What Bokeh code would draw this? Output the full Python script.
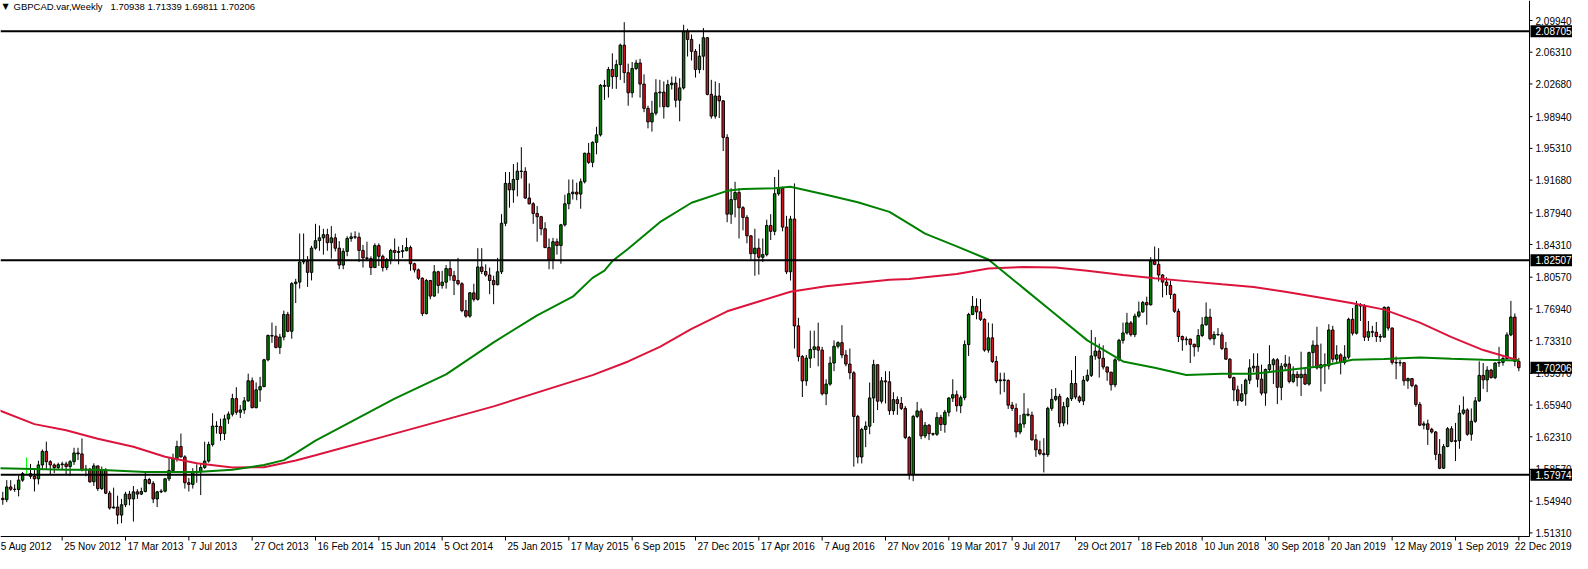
from bokeh.plotting import figure
from bokeh.models import Range1d, ColumnDataSource
from bokeh.core.properties import value
from bokeh.embed import file_html
from bokeh.resources import INLINE

# ---------------- data ----------------
symbol = "GBPCAD.var,Weekly"
first_bar = 2          # index of first visible weekly bar (bar 1 = 5 Aug 2012)
first_open = 1.5527

closes = [
    1.5512, 1.5657, 1.5631, 1.5628, 1.5735, 1.5809, 1.5809, 1.5779, 1.5750, 1.5909,
    1.6064, 1.5946, 1.5909, 1.5879, 1.5912, 1.5920, 1.5890, 1.5946, 1.6046, 1.6035,
    1.5853, 1.5861, 1.5716, 1.5898, 1.5638, 1.5853, 1.5586, 1.5416, 1.5427, 1.5335,
    1.5453, 1.5575, 1.5520, 1.5601, 1.5575, 1.5605, 1.5742, 1.5698, 1.5520, 1.5601,
    1.5609, 1.5750, 1.5846, 1.5983, 1.6120, 1.6001, 1.5705, 1.5686, 1.5823, 1.5831,
    1.5879, 1.5953, 1.6142, 1.6353, 1.6349, 1.6268, 1.6435, 1.6490, 1.6668, 1.6512,
    1.6538, 1.6642, 1.6872, 1.6564, 1.6768, 1.6805, 1.7112, 1.7390, 1.7383, 1.7253,
    1.7372, 1.7631, 1.7438, 1.7983, 1.8001, 1.8231, 1.8238, 1.8112, 1.8390, 1.8475,
    1.8507, 1.8544, 1.8452, 1.8507, 1.8389, 1.8196, 1.8352, 1.8500, 1.8519, 1.8515,
    1.8363, 1.8278, 1.8270, 1.8167, 1.8419, 1.8296, 1.8167, 1.8259, 1.8363, 1.8341,
    1.8352, 1.8361, 1.8396, 1.8211, 1.8141, 1.8045, 1.7641, 1.8019, 1.7841, 1.8119,
    1.7963, 1.8000, 1.8156, 1.8074, 1.8019, 1.7982, 1.7674, 1.7612, 1.7878, 1.7804,
    1.8174, 1.8122, 1.8082, 1.8019, 1.7971, 1.8119, 1.8674, 1.9130, 1.9056, 1.9175,
    1.9271, 1.9267, 1.8963, 1.8897, 1.8786, 1.8749, 1.8611, 1.8396, 1.8259, 1.8463,
    1.8419, 1.8656, 1.8897, 1.9012, 1.9030, 1.9008, 1.9149, 1.9475, 1.9371, 1.9600,
    1.9686, 2.0252, 2.0241, 2.0434, 2.0352, 2.0489, 2.0712, 2.0397, 2.0167, 2.0445,
    2.0508, 2.0267, 1.9989, 1.9834, 1.9934, 2.0167, 2.0175, 2.0008, 2.0260, 2.0278,
    2.0082, 2.0223, 2.0871, 2.0778, 2.0641, 2.0434, 2.0586, 2.0797, 2.0149, 1.9900,
    2.0130, 2.0075, 1.9656, 1.8778, 1.8945, 1.9026, 1.8852, 1.8741, 1.8530, 1.8326,
    1.8389, 1.8285, 1.8315, 1.8649, 1.8582, 1.9012, 1.9075, 1.8630, 1.8119, 1.8723,
    1.7500, 1.7149, 1.6871, 1.7130, 1.7230, 1.7260, 1.7223, 1.6723, 1.6834, 1.7075,
    1.7267, 1.7308, 1.7167, 1.7063, 1.6963, 1.6463, 1.6000, 1.6315, 1.6352, 1.6675,
    1.7056, 1.6638, 1.6871, 1.6860, 1.6530, 1.6656, 1.6612, 1.6556, 1.6223, 1.5797,
    1.6464, 1.6527, 1.6241, 1.6363, 1.6267, 1.6260, 1.6452, 1.6371, 1.6512, 1.6674,
    1.6712, 1.6586, 1.6678, 1.7286, 1.7630, 1.7723, 1.7660, 1.7575, 1.7223, 1.7363,
    1.7093, 1.6871, 1.6882, 1.6875, 1.6593, 1.6556, 1.6286, 1.6378, 1.6489, 1.6478,
    1.6197, 1.6082, 1.6038, 1.6026, 1.6556, 1.6660, 1.6693, 1.6389, 1.6575, 1.6667,
    1.6841, 1.6686, 1.6641, 1.6878, 1.6934, 1.7156, 1.7212, 1.7130, 1.7030, 1.6971,
    1.6826, 1.7112, 1.7334, 1.7419, 1.7534, 1.7400, 1.7612, 1.7660, 1.7767, 1.7741,
    1.8241, 1.8204, 1.8082, 1.8001, 1.7963, 1.7860, 1.7667, 1.7378, 1.7341, 1.7349,
    1.7289, 1.7260, 1.7390, 1.7512, 1.7601, 1.7353, 1.7401, 1.7397, 1.7242, 1.7119,
    1.6908, 1.6768, 1.6642, 1.6723, 1.6879, 1.7019, 1.7038, 1.6890, 1.6731, 1.7001,
    1.7056, 1.7112, 1.6797, 1.7038, 1.7064, 1.6864, 1.6945, 1.6908, 1.6946, 1.6834,
    1.7194, 1.7279, 1.7019, 1.7056, 1.7042, 1.7453, 1.7119, 1.7168, 1.7082, 1.7142,
    1.7575, 1.7416, 1.7734, 1.7727, 1.7371, 1.7434, 1.7427, 1.7379, 1.7371, 1.7712,
    1.7475, 1.7082, 1.7075, 1.7079, 1.6871, 1.6897, 1.6816, 1.6601, 1.6364, 1.6379,
    1.6316, 1.6286, 1.6030, 1.5871, 1.6119, 1.6323, 1.6179, 1.6186, 1.6501, 1.6538,
    1.6260, 1.6408, 1.6642, 1.6934, 1.6882, 1.6994, 1.6908, 1.7075, 1.7082, 1.7127,
    1.7397, 1.7601, 1.70938, 1.70206,
]

highs = [
    1.5601, 1.5735, 1.5735, 1.5686, 1.5787, 1.5827, 1.5994, 1.5920, 1.5853, 1.5957,
    1.6086, 1.6175, 1.5964, 1.5927, 1.5935, 1.5946, 1.5946, 1.5964, 1.6105, 1.6105,
    1.6212, 1.5909, 1.5872, 1.5927, 1.5898, 1.5890, 1.5872, 1.5612, 1.5649, 1.5557,
    1.5520, 1.5601, 1.5612, 1.5668, 1.5631, 1.5649, 1.5816, 1.5761, 1.5724, 1.5612,
    1.5631, 1.5761, 1.5994, 1.6038, 1.6186, 1.6268, 1.6020, 1.5761, 1.5872, 1.5916,
    1.5927, 1.6175, 1.6175, 1.6501, 1.6409, 1.6438, 1.6483, 1.6520, 1.6723, 1.6798,
    1.6594, 1.6686, 1.6953, 1.6909, 1.6853, 1.6916, 1.7123, 1.7401, 1.7538, 1.7501,
    1.7409, 1.7675, 1.7661, 1.8001, 1.8038, 1.8557, 1.8557, 1.8298, 1.8416, 1.8668,
    1.8649, 1.8611, 1.8611, 1.8641, 1.8556, 1.8470, 1.8389, 1.8526, 1.8567, 1.8582,
    1.8567, 1.8426, 1.8463, 1.8296, 1.8444, 1.8444, 1.8315, 1.8278, 1.8382, 1.8500,
    1.8407, 1.8426, 1.8507, 1.8419, 1.8222, 1.8156, 1.8056, 1.8037, 1.8026, 1.8196,
    1.8130, 1.8130, 1.8196, 1.8241, 1.8130, 1.8278, 1.8000, 1.7797, 1.7889, 1.7982,
    1.8389, 1.8389, 1.8204, 1.8167, 1.8074, 1.8278, 1.8778, 1.9260, 1.9260, 1.9352,
    1.9371, 1.9545, 1.9315, 1.9130, 1.8915, 1.8871, 1.8759, 1.8685, 1.8500, 1.8507,
    1.8500, 1.8667, 1.9000, 1.9175, 1.9175, 1.9138, 1.9186, 1.9482, 1.9593, 1.9612,
    1.9778, 2.0267, 2.0315, 2.0463, 2.0619, 2.0545, 2.0730, 2.0975, 2.0500, 2.0519,
    2.0545, 2.0556, 2.0378, 2.0019, 2.0075, 2.0323, 2.0315, 2.0297, 2.0315, 2.0352,
    2.0352, 2.0334, 2.0945, 2.0900, 2.0834, 2.0667, 2.0723, 2.0908, 2.0804, 2.0315,
    2.0297, 2.0278, 2.0082, 1.9693, 1.9075, 1.9149, 1.9075, 1.8871, 1.8767, 1.8537,
    1.8611, 1.8500, 1.8500, 1.8715, 1.8778, 1.9204, 1.9286, 1.9093, 1.8759, 1.8759,
    1.9130, 1.7593, 1.7167, 1.7167, 1.7445, 1.7445, 1.7537, 1.7260, 1.6889, 1.7149,
    1.7334, 1.7323, 1.7508, 1.7223, 1.7241, 1.6982, 1.6482, 1.6334, 1.6408, 1.6852,
    1.7112, 1.7001, 1.6915, 1.6982, 1.6982, 1.6741, 1.6693, 1.6686, 1.6582, 1.6241,
    1.6482, 1.6630, 1.6556, 1.6400, 1.6378, 1.6278, 1.6512, 1.6482, 1.6538, 1.6686,
    1.6889, 1.6760, 1.6704, 1.7334, 1.7649, 1.7841, 1.7815, 1.7808, 1.7586, 1.7538,
    1.7527, 1.7156, 1.6964, 1.6964, 1.6889, 1.6630, 1.6612, 1.6482, 1.6730, 1.6556,
    1.6519, 1.6260, 1.6186, 1.6215, 1.6575, 1.6778, 1.6789, 1.6723, 1.6630, 1.6686,
    1.6993, 1.7156, 1.6704, 1.6926, 1.7001, 1.7452, 1.7371, 1.7297, 1.7278, 1.7008,
    1.6926, 1.7130, 1.7352, 1.7538, 1.7649, 1.7556, 1.7641, 1.7778, 1.7786, 1.7834,
    1.8286, 1.8408, 1.8389, 1.8093, 1.8056, 1.8019, 1.7871, 1.7697, 1.7389, 1.7378,
    1.7352, 1.7297, 1.7463, 1.7600, 1.7768, 1.7697, 1.7438, 1.7475, 1.7427, 1.7316,
    1.7131, 1.6919, 1.6816, 1.6834, 1.6897, 1.7119, 1.7186, 1.7186, 1.7056, 1.7012,
    1.7279, 1.7131, 1.7131, 1.7075, 1.7168, 1.7149, 1.7038, 1.6982, 1.7205, 1.7019,
    1.7205, 1.7334, 1.7490, 1.7297, 1.7186, 1.7519, 1.7501, 1.7279, 1.7186, 1.7279,
    1.7593, 1.7705, 1.7786, 1.7760, 1.7749, 1.7556, 1.7501, 1.7545, 1.7408, 1.7723,
    1.7723, 1.7482, 1.7149, 1.7112, 1.7082, 1.6908, 1.6897, 1.6834, 1.6630, 1.6408,
    1.6427, 1.6334, 1.6297, 1.6205, 1.6149, 1.6342, 1.6353, 1.6390, 1.6593, 1.6693,
    1.6556, 1.6556, 1.6686, 1.7094, 1.7075, 1.7038, 1.7008, 1.7082, 1.7260, 1.7168,
    1.7427, 1.7786, 1.7642, 1.71339,
]

lows = [
    1.5453, 1.5483, 1.5612, 1.5601, 1.5549, 1.5716, 1.5798, 1.5750, 1.5605, 1.5686,
    1.5853, 1.5853, 1.5805, 1.5816, 1.5853, 1.5861, 1.5805, 1.5787, 1.5909, 1.5964,
    1.5835, 1.5779, 1.5705, 1.5668, 1.5612, 1.5623, 1.5575, 1.5398, 1.5409, 1.5231,
    1.5242, 1.5427, 1.5446, 1.5261, 1.5520, 1.5564, 1.5594, 1.5686, 1.5472, 1.5427,
    1.5586, 1.5594, 1.5724, 1.5827, 1.5946, 1.5994, 1.5638, 1.5605, 1.5638, 1.5705,
    1.5564, 1.5864, 1.5935, 1.6120, 1.6268, 1.6186, 1.6194, 1.6379, 1.6464, 1.6483,
    1.6446, 1.6494, 1.6631, 1.6557, 1.6557, 1.6631, 1.6798, 1.7094, 1.7305, 1.7242,
    1.7179, 1.7335, 1.7427, 1.7353, 1.7761, 1.7927, 1.8205, 1.7946, 1.8020, 1.8372,
    1.8359, 1.8315, 1.8359, 1.8270, 1.8352, 1.8148, 1.8148, 1.8296, 1.8463, 1.8493,
    1.8230, 1.8167, 1.8241, 1.8082, 1.8204, 1.8185, 1.8122, 1.8137, 1.8204, 1.8259,
    1.8204, 1.8278, 1.8352, 1.8130, 1.8111, 1.8026, 1.7612, 1.7630, 1.7804, 1.7834,
    1.7871, 1.7926, 1.7926, 1.8019, 1.7852, 1.7963, 1.7656, 1.7593, 1.7593, 1.7778,
    1.7789, 1.8093, 1.8063, 1.7863, 1.7748, 1.7963, 1.8093, 1.8641, 1.8852, 1.8908,
    1.8982, 1.9186, 1.8952, 1.8889, 1.8667, 1.8463, 1.8537, 1.8389, 1.8148, 1.8148,
    1.8315, 1.8211, 1.8637, 1.8834, 1.8945, 1.8938, 1.8841, 1.9130, 1.9352, 1.9315,
    1.9463, 1.9667, 2.0086, 2.0112, 2.0212, 2.0212, 2.0315, 2.0278, 2.0019, 2.0112,
    2.0426, 2.0112, 1.9945, 1.9760, 1.9723, 1.9908, 2.0000, 1.9871, 2.0000, 2.0204,
    2.0000, 1.9841, 2.0204, 2.0582, 2.0537, 2.0341, 2.0389, 2.0426, 2.0138, 1.9871,
    1.9871, 1.9878, 1.9500, 1.8686, 1.8667, 1.8741, 1.8500, 1.8593, 1.8445, 1.8259,
    1.8074, 1.8086, 1.8230, 1.8296, 1.8482, 1.8537, 1.8989, 1.8582, 1.8093, 1.8019,
    1.7241, 1.7093, 1.6686, 1.6815, 1.7019, 1.7130, 1.7037, 1.6704, 1.6593, 1.6815,
    1.6982, 1.7241, 1.7130, 1.7037, 1.6889, 1.5889, 1.5926, 1.5926, 1.6112, 1.6260,
    1.6389, 1.6537, 1.6612, 1.6612, 1.6482, 1.6482, 1.6482, 1.6537, 1.6204, 1.5741,
    1.5723, 1.6445, 1.6204, 1.6215, 1.6193, 1.6241, 1.6241, 1.6297, 1.6278, 1.6464,
    1.6630, 1.6519, 1.6501, 1.6649, 1.7156, 1.7623, 1.7575, 1.7556, 1.7204, 1.7193,
    1.7075, 1.6845, 1.6715, 1.6741, 1.6549, 1.6527, 1.6223, 1.6260, 1.6334, 1.6464,
    1.6186, 1.6001, 1.6019, 1.5823, 1.6001, 1.6527, 1.6638, 1.6341, 1.6352, 1.6371,
    1.6641, 1.6660, 1.6619, 1.6593, 1.6860, 1.6915, 1.7112, 1.6908, 1.7001, 1.6871,
    1.6760, 1.6797, 1.7093, 1.7297, 1.7400, 1.7378, 1.7371, 1.7593, 1.7649, 1.7512,
    1.7734, 1.8193, 1.8008, 1.7826, 1.7852, 1.7808, 1.7649, 1.7315, 1.7215, 1.7278,
    1.7075, 1.7149, 1.7204, 1.7371, 1.7501, 1.7334, 1.7279, 1.7390, 1.7223, 1.7112,
    1.6897, 1.6638, 1.6586, 1.6630, 1.6586, 1.6834, 1.6971, 1.6797, 1.6705, 1.6586,
    1.6964, 1.6834, 1.6605, 1.6649, 1.7001, 1.6842, 1.6845, 1.6808, 1.6697, 1.6823,
    1.6816, 1.7038, 1.7001, 1.6749, 1.6834, 1.7001, 1.7082, 1.7075, 1.6945, 1.7056,
    1.7119, 1.7390, 1.7401, 1.7556, 1.7327, 1.7327, 1.7371, 1.7316, 1.7316, 1.7371,
    1.7445, 1.7056, 1.6890, 1.7038, 1.6816, 1.6779, 1.6797, 1.6575, 1.6353, 1.6316,
    1.6138, 1.6268, 1.5964, 1.5860, 1.5864, 1.6112, 1.6168, 1.5953, 1.6094, 1.6482,
    1.6242, 1.6186, 1.6390, 1.6630, 1.6779, 1.6742, 1.6897, 1.6890, 1.7031, 1.7045,
    1.7112, 1.7382, 1.7038, 1.69811,
]

# moving averages read at sample bars
red_ma_bars = [1, 10, 18, 26, 35, 43, 51, 60, 68, 76, 81, 101, 126, 151, 160, 168, 176,
               185, 193, 201, 210, 218, 226, 231, 235, 243, 251, 260, 268, 276, 285, 293,
               301, 310, 318, 326, 335, 343, 351, 360, 368, 376, 385]
red_ma_vals = [1.6535, 1.6376, 1.6305, 1.6208, 1.6117, 1.6003, 1.5929, 1.5880, 1.5882,
               1.5960, 1.6020, 1.6267, 1.6579, 1.6937, 1.7093, 1.7260, 1.7465, 1.7667,
               1.7779, 1.7890, 1.7953, 1.7990, 1.8027, 1.8037, 1.8056, 1.8093, 1.8156,
               1.8175, 1.8167, 1.8131, 1.8082, 1.8045, 1.8012, 1.7975, 1.7945, 1.7890,
               1.7823, 1.7760, 1.7686, 1.7537, 1.7371, 1.7223, 1.7104]
green_ma_bars = [1, 18, 26, 38, 51, 60, 68, 73, 76, 81, 101, 114, 126, 137, 146, 151, 154,
                 156, 160, 168, 176, 185, 189, 197, 201, 210, 218, 226, 231, 235, 243, 251,
                 260, 268, 276, 285, 293, 301, 310, 318, 326, 335, 343, 351, 360, 368, 376, 385]
green_ma_vals = [1.5871, 1.5853, 1.5853, 1.5827, 1.5827, 1.5853, 1.5909, 1.5964, 1.6045,
                 1.6186, 1.6667, 1.6945, 1.7312, 1.7620, 1.7834, 1.8049, 1.8131, 1.8242,
                 1.8382, 1.8686, 1.8909, 1.9045, 1.9067, 1.9075, 1.9093, 1.9001, 1.8915,
                 1.8804, 1.8667, 1.8556, 1.8409, 1.8260, 1.7926, 1.7631, 1.7334, 1.7093,
                 1.7020, 1.6937, 1.6953, 1.6953, 1.6993, 1.7037, 1.7112, 1.7120, 1.7138,
                 1.7123, 1.7112, 1.7104]

levels = [2.08705, 1.82507, 1.57974]
price_ticks = [2.09940, 2.06310, 2.02680, 1.98940, 1.95310, 1.91680, 1.87940, 1.84310,
               1.80570, 1.76940, 1.73310, 1.69570, 1.65940, 1.62310, 1.58570, 1.54940, 1.51310]
date_labels = ["5 Aug 2012", "25 Nov 2012", "17 Mar 2013", "7 Jul 2013", "27 Oct 2013",
               "16 Feb 2014", "15 Jun 2014", "5 Oct 2014", "25 Jan 2015", "17 May 2015",
               "6 Sep 2015", "27 Dec 2015", "17 Apr 2016", "7 Aug 2016", "27 Nov 2016",
               "19 Mar 2017", "9 Jul 2017", "29 Oct 2017", "18 Feb 2018", "10 Jun 2018",
               "30 Sep 2018", "20 Jan 2019", "12 May 2019", "1 Sep 2019", "22 Dec 2019"]
label_every = 16

# ---------------- styling / layout ----------------
FONT = "Liberation Sans"
FS = "10px"
BULL = "#008000"
BEAR = "#D2141E"
DOJI = "#00FF00"
RED_MA = "#DC143C"
GREEN_MA = "#008000"

W, H = 1572, 553
AX_R, AX_B = 43, 17
x_lo, x_chart_hi = 1.42, 387.7
y_chart_lo, y_hi = 1.5090, 2.1223
ppb = (W - AX_R) / (x_chart_hi - x_lo)
ppp = (H - AX_B) / (y_hi - y_chart_lo)
x_hi = x_lo + W / ppb
y_lo = y_chart_lo - AX_B / ppp


def dx(px):
    return px / ppb


def dy(px):
    return px / ppp


n = len(closes)
bars = list(range(first_bar, first_bar + n))
opens = [first_open] + closes[:-1]

p = figure(width=W, height=H, output_backend="svg", toolbar_location=None,
           x_range=Range1d(x_lo, x_hi), y_range=Range1d(y_lo, y_hi),
           x_axis_location=None, y_axis_location=None,
           min_border_left=0, min_border_top=0, min_border_right=0, min_border_bottom=0)
p.outline_line_color = None
p.grid.visible = False
p.background_fill_color = "white"

# candles
up = dict(x=[], o=[], c=[])
dn = dict(x=[], o=[], c=[])
wick = dict(x=[], lo=[], hi=[])
dwick = dict(x=[], lo=[], hi=[])
for b, o, h, l, c in zip(bars, opens, highs, lows, closes):
    if c == o:
        dwick["x"].append(b); dwick["lo"].append(l); dwick["hi"].append(h)
        continue
    wick["x"].append(b); wick["lo"].append(l); wick["hi"].append(h)
    d = up if c > o else dn
    d["x"].append(b); d["o"].append(o); d["c"].append(c)

p.segment(x0="x", y0="lo", x1="x", y1="hi", source=ColumnDataSource(wick),
          line_color="black", line_width=1)
p.segment(x0="x", y0="lo", x1="x", y1="hi", source=ColumnDataSource(dwick),
          line_color=DOJI, line_width=1)
p.vbar(x="x", bottom="o", top="c", width=0.62, source=ColumnDataSource(up),
       fill_color=BULL, line_color="black", line_width=1)
p.vbar(x="x", bottom="c", top="o", width=0.62, source=ColumnDataSource(dn),
       fill_color=BEAR, line_color="black", line_width=1)

# moving averages
p.line(red_ma_bars, red_ma_vals, line_color=RED_MA, line_width=2)
p.line(green_ma_bars, green_ma_vals, line_color=GREEN_MA, line_width=2)

# horizontal levels
for lv in levels:
    p.line([x_lo, x_chart_hi], [lv, lv], line_color="black", line_width=2)

# ---- axes drawn by hand inside the canvas ----
p.line([x_lo, x_chart_hi], [y_chart_lo, y_chart_lo], line_color="black", line_width=1)
p.line([x_chart_hi, x_chart_hi], [y_chart_lo, y_hi], line_color="black", line_width=1)

tick_bars = [1 + label_every * i for i in range(len(date_labels))]
p.segment(x0=tick_bars, y0=[y_chart_lo] * len(tick_bars), x1=tick_bars,
          y1=[y_chart_lo - dy(4)] * len(tick_bars), line_color="black", line_width=1)
# all but the last label start just right of their tick; the last one is kept on canvas
p.text(x=[b + dx(2) for b in tick_bars[:-1]], y=[y_chart_lo - dy(10)] * (len(tick_bars) - 1),
       text=date_labels[:-1], text_align="left", text_baseline="middle",
       text_font=value(FONT), text_font_size=value(FS), text_color="black")
p.text(x=[x_hi - dx(1)], y=[y_chart_lo - dy(10)], text=date_labels[-1:],
       text_align="right", text_baseline="middle",
       text_font=value(FONT), text_font_size=value(FS), text_color="black")

p.segment(x0=[x_chart_hi] * len(price_ticks), y0=price_ticks,
          x1=[x_chart_hi + dx(3)] * len(price_ticks), y1=price_ticks,
          line_color="black", line_width=1)
p.text(x=[x_chart_hi + dx(6)] * len(price_ticks), y=price_ticks,
       text=["%.5f" % t for t in price_ticks], text_align="left", text_baseline="middle",
       text_font=value(FONT), text_font_size=value(FS), text_color="black")

# price boxes on the axis
box_vals = levels + [closes[-1]]
p.quad(left=[x_chart_hi + dx(1)] * len(box_vals), right=[x_hi] * len(box_vals),
       bottom=[v - dy(6) for v in box_vals], top=[v + dy(6) for v in box_vals],
       fill_color="black", line_color=None)
p.text(x=[x_chart_hi + dx(6)] * len(box_vals), y=box_vals,
       text=["%.5f" % v for v in box_vals], text_align="left", text_baseline="middle",
       text_font=value(FONT), text_font_size=value(FS), text_color="white")

# header
p.text(x=[x_lo + dx(2)], y=[y_hi - dy(5.5)], text=["\u25bc"], text_align="left",
       text_baseline="middle", text_font=value("DejaVu Sans"), text_font_size=value("8px"),
       text_color="black")
p.text(x=[x_lo + dx(13)], y=[y_hi - dy(5.5)], text=[symbol], text_align="left",
       text_baseline="middle", text_font=value(FONT), text_font_size=value("9.5px"),
       text_color="black")
p.text(x=[x_lo + dx(110)], y=[y_hi - dy(5.5)],
       text=[" ".join("%.5f" % v for v in [opens[-1], highs[-1], lows[-1], closes[-1]])],
       text_align="left", text_baseline="middle", text_font=value(FONT),
       text_font_size=value("9.5px"), text_color="black")

open("out.html", "w").write(file_html(p, INLINE))
